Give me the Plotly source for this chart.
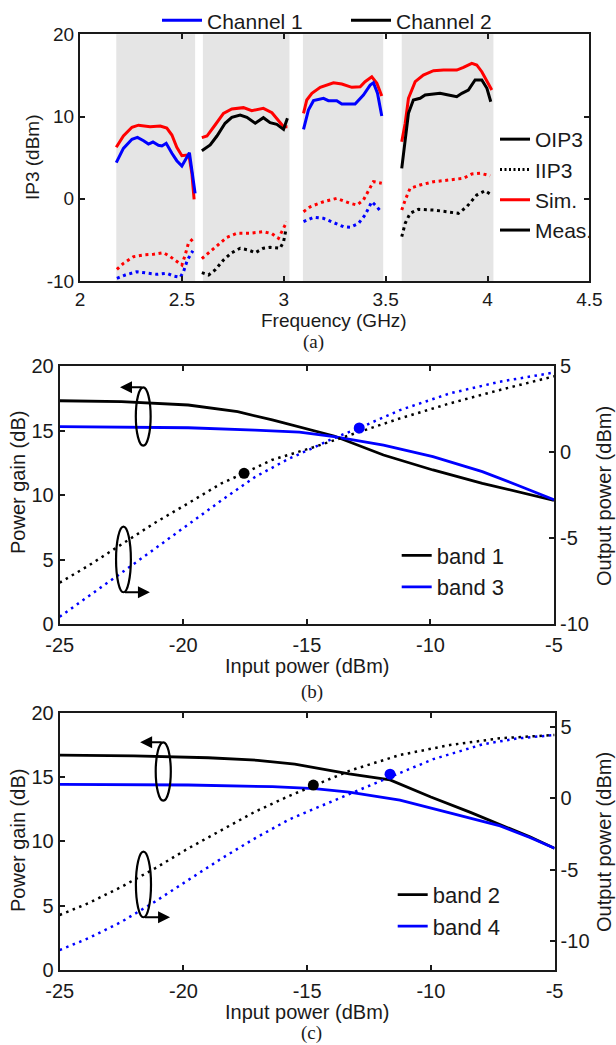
import plotly.graph_objects as go

W, H = 616, 1045

# ------------------------------------------------------------------
# (a) IP3 versus frequency
# ------------------------------------------------------------------
band_lo = [2.178, 2.603, 3.094, 3.579]
band_hi = [2.565, 3.028, 3.488, 4.029]

# band 1 (Channel 1)
b1_oip3_sim_f = [2.178, 2.213, 2.255, 2.287, 2.344, 2.394, 2.426, 2.451, 2.475, 2.500, 2.525, 2.537, 2.549, 2.560]
b1_oip3_sim = [6.26, 7.63, 8.69, 8.95, 8.75, 8.85, 8.6, 7.75, 6.26, 5.24, 5.32, 4.92, 3.09, -0.07]
b1_oip3_meas_f = [2.178, 2.213, 2.255, 2.282, 2.312, 2.336, 2.358, 2.385, 2.402, 2.423, 2.451, 2.475, 2.500, 2.521, 2.537, 2.565]
b1_oip3_meas = [4.39, 6.13, 7.23, 7.47, 7.06, 6.66, 6.9, 6.5, 6.42, 6.74, 5.53, 4.63, 3.98, 4.92, 5.6, 0.66]
b1_iip3_sim_f = [2.181, 2.213, 2.263, 2.312, 2.361, 2.410, 2.443, 2.475, 2.500, 2.516, 2.532, 2.557]
b1_iip3_sim = [-8.58, -7.85, -7.04, -6.83, -6.75, -6.56, -7.04, -7.65, -8.06, -6.84, -5.42, -4.81]
b1_iip3_meas_f = [2.181, 2.222, 2.279, 2.328, 2.377, 2.426, 2.459, 2.492, 2.508, 2.527, 2.554]
b1_iip3_meas = [-9.67, -9.27, -8.87, -9.07, -9.19, -9.07, -9.39, -9.55, -8.87, -7.45, -6.32]

# band 2 (Channel 2)
b2_oip3_sim_f = [2.598, 2.623, 2.663, 2.704, 2.745, 2.802, 2.843, 2.900, 2.942, 2.982, 2.999, 3.018]
b2_oip3_sim = [7.43, 7.63, 8.97, 10.39, 10.92, 11.08, 10.71, 11.0, 10.47, 9.25, 8.77, 8.77]
b2_oip3_meas_f = [2.598, 2.639, 2.672, 2.712, 2.745, 2.786, 2.819, 2.860, 2.900, 2.933, 2.966, 2.999, 3.018]
b2_oip3_meas = [5.85, 6.54, 7.63, 9.18, 9.9, 10.19, 9.9, 9.18, 9.86, 9.25, 9.05, 8.44, 9.79]
b2_iip3_sim_f = [2.598, 2.639, 2.680, 2.721, 2.770, 2.833, 2.900, 2.942, 2.974, 2.996, 3.015]
b2_iip3_sim = [-7.29, -6.44, -5.62, -4.69, -4.2, -4.2, -4.0, -4.24, -4.81, -3.71, -2.79]
b2_iip3_meas_f = [2.598, 2.631, 2.663, 2.704, 2.745, 2.786, 2.827, 2.860, 2.900, 2.933, 2.982, 2.999, 3.012]
b2_iip3_meas = [-8.99, -9.27, -8.66, -7.45, -6.56, -6.02, -6.23, -6.56, -6.02, -5.9, -6.02, -5.22, -3.6]

# band 3 (Channel 1)
b3_oip3_sim_f = [3.097, 3.113, 3.138, 3.179, 3.244, 3.285, 3.334, 3.375, 3.399, 3.432, 3.457, 3.481]
b3_oip3_sim = [10.39, 12.01, 12.82, 13.55, 14.11, 13.96, 13.55, 13.63, 14.24, 14.84, 14.04, 12.5]
b3_oip3_meas_f = [3.097, 3.121, 3.146, 3.195, 3.219, 3.260, 3.285, 3.350, 3.391, 3.424, 3.440, 3.460, 3.481]
b3_oip3_meas = [8.45, 10.79, 11.93, 12.22, 11.93, 11.93, 11.52, 11.52, 12.62, 13.83, 14.11, 12.83, 10.06]
b3_iip3_sim_f = [3.097, 3.130, 3.195, 3.260, 3.326, 3.359, 3.391, 3.416, 3.440, 3.481]
b3_iip3_sim = [-1.57, -0.97, -0.36, 0.05, -0.55, -0.76, -0.15, 1.07, 2.08, 1.88]
b3_iip3_meas_f = [3.097, 3.146, 3.195, 3.244, 3.293, 3.326, 3.367, 3.399, 3.432, 3.457, 3.481]
b3_iip3_meas = [-2.79, -2.25, -2.38, -2.91, -3.4, -3.47, -2.99, -1.98, -0.36, -0.97, -1.7]

# band 4 (Channel 2)
b4_oip3_sim_f = [3.579, 3.596, 3.612, 3.645, 3.685, 3.735, 3.784, 3.849, 3.882, 3.923, 3.947, 3.972, 4.021]
b4_oip3_sim = [6.94, 9.18, 12.22, 14.24, 15.05, 15.57, 15.65, 15.65, 15.98, 16.47, 16.27, 15.45, 13.23]
b4_oip3_meas_f = [3.579, 3.596, 3.612, 3.636, 3.669, 3.694, 3.735, 3.767, 3.808, 3.849, 3.874, 3.906, 3.939, 3.972, 3.997, 4.016]
b4_oip3_meas = [3.7, 7.15, 10.39, 12.0, 12.22, 12.62, 12.74, 12.82, 12.62, 12.41, 12.82, 13.23, 14.44, 14.44, 13.43, 11.8]
b4_iip3_sim_f = [3.579, 3.596, 3.620, 3.669, 3.735, 3.817, 3.882, 3.923, 3.964, 4.013]
b4_iip3_sim = [-1.37, -0.15, 1.27, 1.67, 2.07, 2.28, 2.49, 3.01, 3.1, 2.8]
b4_iip3_meas_f = [3.579, 3.596, 3.620, 3.661, 3.735, 3.800, 3.857, 3.898, 3.947, 3.988, 4.013]
b4_iip3_meas = [-4.61, -2.99, -1.77, -1.28, -1.37, -1.57, -1.77, -0.97, 0.45, 0.98, 0.58]

# ------------------------------------------------------------------
# (b) bands 1 and 3
# ------------------------------------------------------------------
b_gain1_pin = [-25, -22.5, -19.8, -17.8, -16.4, -15.3, -13.9, -11.9, -9.9, -7.9, -5]
b_gain1 = [17.31, 17.24, 16.98, 16.46, 15.82, 15.25, 14.58, 13.11, 11.95, 10.92, 9.6]
b_gain3_pin = [-25, -19.8, -17.1, -15.3, -13.9, -11.9, -9.9, -7.9, -6.5, -5]
b_gain3 = [15.3, 15.22, 15.04, 14.88, 14.53, 13.88, 12.98, 11.82, 10.79, 9.65]
b_pout1_pin = [-25, -23.84, -22.49, -21.14, -19.8, -18.45, -17.54, -16.42, -14.74, -13.25, -11.23, -9.21, -7.19, -5]
b_pout1 = [-7.58, -6.6, -5.35, -4.1, -2.97, -1.81, -1.23, -0.46, 0.28, 0.99, 1.96, 2.83, 3.61, 4.4]
b_pout3_pin = [-25, -23.84, -22.49, -21.14, -19.8, -18.45, -17.1, -15.75, -14.74, -13.93, -12.88, -11.23, -9.21, -7.19, -5]
b_pout3 = [-9.56, -8.4, -7.0, -5.6, -4.2, -2.8, -1.45, -0.4, 0.25, 0.8, 1.4, 2.44, 3.41, 4.09, 4.62]
b_p1db_pin = [-17.54, -12.88]
b_p1db_pout = [-1.23, 1.40]

# ------------------------------------------------------------------
# (c) bands 2 and 4
# ------------------------------------------------------------------
c_gain2_pin = [-25, -22, -19, -17, -15.5, -14.5, -13.3, -11.65, -10, -8.4, -7.2, -6.0, -5]
c_gain2 = [16.71, 16.65, 16.5, 16.3, 16.0, 15.65, 15.25, 14.77, 13.45, 12.25, 11.3, 10.35, 9.46]
c_gain4_pin = [-25, -19.8, -16.4, -14.7, -13.3, -11.25, -9.2, -7.2, -6.0, -5]
c_gain4 = [14.43, 14.38, 14.25, 14.1, 13.82, 13.2, 12.2, 11.2, 10.3, 9.46]
c_pout2_pin = [-25, -23.84, -22.49, -21.15, -19.8, -18.45, -17.11, -15.76, -14.75, -13.27, -11.25, -9.23, -7.21, -5]
c_pout2 = [-8.15, -7.33, -6.17, -4.89, -3.49, -2.21, -0.93, 0.15, 0.9, 1.95, 3.04, 3.74, 4.21, 4.44]
c_pout4_pin = [-25, -23.84, -22.49, -21.15, -19.8, -18.45, -17.11, -15.76, -14.68, -13.94, -12.6, -11.65, -9.9, -7.88, -6.5, -5]
c_pout4 = [-10.6, -9.78, -8.62, -7.22, -5.7, -4.19, -2.79, -1.5, -0.7, -0.15, 0.8, 1.5, 2.75, 3.8, 4.2, 4.44]
c_p1db_pin = [-14.75, -11.65]
c_p1db_pout = [0.94, 1.7]

# tick values / labels (plain hyphen-minus as in the original)
a_x_tickvals = [2, 2.5, 3, 3.5, 4, 4.5]
a_x_ticktext = ["2", "2.5", "3", "3.5", "4", "4.5"]
a_y_tickvals = [-10, 0, 10, 20]
a_y_ticktext = ["-10", "0", "10", "20"]
pin_tickvals = [-25, -20, -15, -10, -5]
pin_ticktext = ["-25", "-20", "-15", "-10", "-5"]
gain_tickvals = [0, 5, 10, 15, 20]
gain_ticktext = ["0", "5", "10", "15", "20"]
pout_tickvals = [-10, -5, 0, 5]
pout_ticktext = ["-10", "-5", "0", "5"]

# ------------------------------------------------------------------
RED, BLUE, BLACK = "#ff0000", "#0000ff", "#000000"
TXT = "#1a1a1a"
FONT = "Liberation Sans, Arial, sans-serif"
SERIF = "Liberation Serif, Times New Roman, serif"


def px(x):
    return x / W


def py(y):
    return 1 - y / H


fig = go.Figure()


def add_line(x, y, color, dash, xa, ya, width, name=None, legend=None):
    fig.add_trace(go.Scatter(
        x=x, y=y, mode="lines", xaxis=xa, yaxis=ya,
        line=dict(color=color, width=width, dash=dash),
        name=name, showlegend=name is not None,
        legend=legend if legend else "legend", hoverinfo="skip"))


DOT_A = "3px,3.6px"
DOT_B = "2.5px,4.5px"

# panel (a)
add_line(b1_oip3_sim_f, b1_oip3_sim, RED, "solid", "x", "y", 3)
add_line(b1_oip3_meas_f, b1_oip3_meas, BLUE, "solid", "x", "y", 3, "Channel 1", "legend")
add_line(b1_iip3_sim_f, b1_iip3_sim, RED, DOT_A, "x", "y", 3)
add_line(b1_iip3_meas_f, b1_iip3_meas, BLUE, DOT_A, "x", "y", 3)
add_line(b2_oip3_sim_f, b2_oip3_sim, RED, "solid", "x", "y", 3)
add_line(b2_oip3_meas_f, b2_oip3_meas, BLACK, "solid", "x", "y", 3, "Channel 2", "legend")
add_line(b2_iip3_sim_f, b2_iip3_sim, RED, DOT_A, "x", "y", 3)
add_line(b2_iip3_meas_f, b2_iip3_meas, BLACK, DOT_A, "x", "y", 3)
add_line(b3_oip3_sim_f, b3_oip3_sim, RED, "solid", "x", "y", 3)
add_line(b3_oip3_meas_f, b3_oip3_meas, BLUE, "solid", "x", "y", 3)
add_line(b3_iip3_sim_f, b3_iip3_sim, RED, DOT_A, "x", "y", 3)
add_line(b3_iip3_meas_f, b3_iip3_meas, BLUE, DOT_A, "x", "y", 3)
add_line(b4_oip3_sim_f, b4_oip3_sim, RED, "solid", "x", "y", 3)
add_line(b4_oip3_meas_f, b4_oip3_meas, BLACK, "solid", "x", "y", 3)
add_line(b4_iip3_sim_f, b4_iip3_sim, RED, DOT_A, "x", "y", 3)
add_line(b4_iip3_meas_f, b4_iip3_meas, BLACK, DOT_A, "x", "y", 3)

# legend-only key entries for panel (a)
for nm, col, dsh in [("OIP3", BLACK, "solid"), ("IIP3", BLACK, "2px,2.5px"),
                     ("Sim.", RED, "solid"), ("Meas.", BLACK, "solid")]:
    fig.add_trace(go.Scatter(x=[None], y=[None], mode="lines", xaxis="x", yaxis="y",
                             line=dict(color=col, width=3, dash=dsh), name=nm,
                             legend="legend2", showlegend=True, hoverinfo="skip"))

# panel (b)
add_line(b_gain1_pin, b_gain1, BLACK, "solid", "x2", "y2", 2.8, "band 1", "legend3")
add_line(b_gain3_pin, b_gain3, BLUE, "solid", "x2", "y2", 2.8, "band 3", "legend3")
add_line(b_pout1_pin, b_pout1, BLACK, DOT_B, "x2", "y3", 2.5)
add_line(b_pout3_pin, b_pout3, BLUE, DOT_B, "x2", "y3", 2.5)
fig.add_trace(go.Scatter(x=b_p1db_pin, y=b_p1db_pout, mode="markers", xaxis="x2", yaxis="y3",
                         marker=dict(color=[BLACK, BLUE], size=11), showlegend=False, hoverinfo="skip"))

# panel (c)
add_line(c_gain2_pin, c_gain2, BLACK, "solid", "x3", "y4", 2.8, "band 2", "legend4")
add_line(c_gain4_pin, c_gain4, BLUE, "solid", "x3", "y4", 2.8, "band 4", "legend4")
add_line(c_pout2_pin, c_pout2, BLACK, DOT_B, "x3", "y5", 2.5)
add_line(c_pout4_pin, c_pout4, BLUE, DOT_B, "x3", "y5", 2.5)
fig.add_trace(go.Scatter(x=c_p1db_pin, y=c_p1db_pout, mode="markers", xaxis="x3", yaxis="y5",
                         marker=dict(color=[BLACK, BLUE], size=11), showlegend=False, hoverinfo="skip"))

# grey frequency bands
shapes = []
for lo, hi in zip(band_lo, band_hi):
    shapes.append(dict(type="rect", xref="x", yref="y domain", x0=lo, x1=hi, y0=0, y1=1,
                       fillcolor="#e5e5e5", line=dict(width=0), layer="below"))

# ellipses marking axis association
for xr, yr, x0, x1, y0, y1 in [("x2", "y2", -21.92, -21.32, 13.83, 18.35),
                               ("x2", "y2", -22.72, -22.12, 2.48, 7.56),
                               ("x3", "y4", -21.12, -20.51, 13.16, 17.7),
                               ("x3", "y4", -21.92, -21.31, 4.1, 9.2)]:
    shapes.append(dict(type="circle", xref=xr, yref=yr, x0=x0, x1=x1, y0=y0, y1=y1,
                       line=dict(color=BLACK, width=2.2)))

annotations = []
for xr, yr, tx, ty, hx in [("x2", "y2", -21.62, 18.35, -22.56),
                           ("x2", "y2", -22.42, 2.48, -21.35),
                           ("x3", "y4", -20.82, 17.7, -21.75),
                           ("x3", "y4", -21.62, 4.1, -20.54)]:
    annotations.append(dict(xref=xr, yref=yr, axref=xr, ayref=yr, x=hx, y=ty, ax=tx, ay=ty,
                            text="", showarrow=True, arrowhead=2, arrowsize=1.2,
                            arrowwidth=2, arrowcolor=BLACK, standoff=0, startstandoff=0))


def label(text, x, y, size, angle=0, family=FONT):
    annotations.append(dict(text=text, x=px(x), y=py(y), xref="paper", yref="paper",
                            xanchor="center", yanchor="middle", showarrow=False,
                            textangle=angle, font=dict(size=size, family=family, color=TXT)))


label("Frequency (GHz)", 334, 320, 19)
label("IP3 (dBm)", 33, 157, 19, -90)
label("(a)", 313, 342, 19, family=SERIF)
label("Input power (dBm)", 307, 666, 20)
label("Power gain (dB)", 18, 483, 20, -90)
label("Output power (dBm)", 604, 496, 20, -90)
label("(b)", 312, 692, 19, family=SERIF)
label("Input power (dBm)", 307, 1012, 20)
label("Power gain (dB)", 18, 841, 20, -90)
label("Output power (dBm)", 604, 842, 20, -90)
label("(c)", 312, 1033, 19, family=SERIF)

common = dict(showline=True, linecolor=TXT, linewidth=2, ticks="inside", ticklen=5,
              tickwidth=2, tickcolor=TXT, showgrid=False, zeroline=False, automargin=False,
              tickfont=dict(size=19, color=TXT, family=FONT))
common_bc = dict(common, tickfont=dict(size=20, color=TXT, family=FONT))

fig.update_layout(
    width=W, height=H, margin=dict(l=0, r=0, t=0, b=0, autoexpand=False),
    paper_bgcolor="white", plot_bgcolor="white",
    font=dict(family=FONT, color=TXT, size=19),
    xaxis=dict(common, domain=[px(80), px(589.4)], range=[2, 4.5],
               tickvals=a_x_tickvals, ticktext=a_x_ticktext, mirror="ticks", anchor="y"),
    yaxis=dict(common, domain=[py(281), py(34.3)], range=[-10, 20],
               tickvals=a_y_tickvals, ticktext=a_y_ticktext, mirror="ticks", anchor="x"),
    xaxis2=dict(common_bc, domain=[px(59.7), px(554)], range=[-25, -5], ticklabelstandoff=2,
                tickvals=pin_tickvals, ticktext=pin_ticktext, mirror="ticks", anchor="y2"),
    yaxis2=dict(common_bc, domain=[py(624.3), py(366)], range=[0, 20],
                tickvals=gain_tickvals, ticktext=gain_ticktext, anchor="x2"),
    yaxis3=dict(common_bc, overlaying="y2", side="right", range=[-10, 5],
                tickvals=pout_tickvals, ticktext=pout_ticktext, anchor="x2"),
    xaxis3=dict(common_bc, domain=[px(59.7), px(554.6)], range=[-25, -5], ticklabelstandoff=2,
                tickvals=pin_tickvals, ticktext=pin_ticktext, mirror="ticks", anchor="y4"),
    yaxis4=dict(common_bc, domain=[py(970), py(712.7)], range=[0, 20],
                tickvals=gain_tickvals, ticktext=gain_ticktext, anchor="x3"),
    yaxis5=dict(common_bc, overlaying="y4", side="right", range=[-12, 6],
                tickvals=pout_tickvals, ticktext=pout_ticktext, anchor="x3"),
    legend=dict(orientation="h", x=px(157), xanchor="left", y=py(20.7), yanchor="middle",
                font=dict(size=21, color=TXT), bgcolor="rgba(0,0,0,0)", itemwidth=40,
                entrywidth=134, entrywidthmode="pixels", tracegroupgap=0),
    legend2=dict(x=px(495), xanchor="left", y=py(185), yanchor="middle",
                 font=dict(size=21, color=TXT), bgcolor="rgba(0,0,0,0)", tracegroupgap=0),
    legend3=dict(x=px(396.7), xanchor="left", y=py(571.5), yanchor="middle",
                 font=dict(size=22, color=TXT), bgcolor="rgba(0,0,0,0)", tracegroupgap=0),
    legend4=dict(x=px(392.7), xanchor="left", y=py(910.8), yanchor="middle",
                 font=dict(size=22, color=TXT), bgcolor="rgba(0,0,0,0)", tracegroupgap=0),
    shapes=shapes,
    annotations=annotations,
)

fig.write_html("out.html")
